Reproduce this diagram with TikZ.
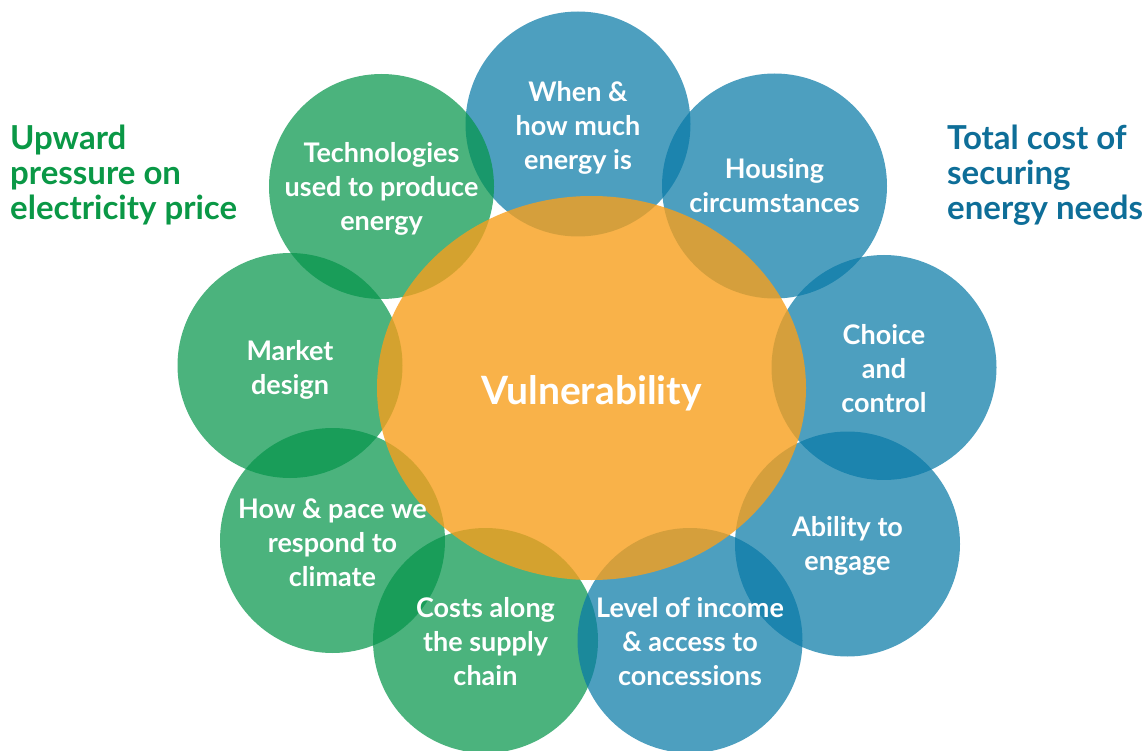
\documentclass[tikz,border=0pt]{standalone}
\usepackage{fontspec}
\setmainfont{Lato}
\usetikzlibrary{shapes.geometric}
\definecolor{cgreen}{RGB}{5,149,75}
\definecolor{cblue}{RGB}{9,122,167}
\definecolor{corange}{RGB}{248,159,28}
\definecolor{tgreen}{RGB}{10,152,70}
\definecolor{tblue}{RGB}{14,110,152}
\begin{document}
\begin{tikzpicture}[x=1pt,y=-1pt,
  bubble/.style={circle, minimum size=225pt, inner sep=0pt, draw=none, fill opacity=0.72},
  gbub/.style={bubble, fill=cgreen},
  bbub/.style={bubble, fill=cblue},
  core/.style={ellipse, minimum width=429pt, minimum height=384pt, inner sep=0pt, draw=none, fill=corange, fill opacity=0.8},
  ctext/.style={text=white, align=center, inner sep=0pt, font=\fontsize{27}{34}\selectfont\bfseries},
  vtext/.style={text=white, inner sep=0pt, font=\fontsize{39}{44}\selectfont\bfseries},
  side/.style={align=left, anchor=west, inner sep=0pt, font=\fontsize{33}{35}\selectfont\bfseries}
]
\useasboundingbox (0,0) rectangle (1148,751);
% bubbles
\node[bbub] (when) at (578,124) {};
\node[gbub] (tech) at (381.5,186.5) {};
\node[gbub] (market) at (290,365.5) {};
\node[gbub] (pace) at (332.5,540.5) {};
\node[gbub] (costs) at (485.5,640.5) {};
\node[bbub] (income) at (690,640.5) {};
\node[bbub] (engage) at (847.5,544) {};
\node[bbub] (choice) at (884,367.5) {};
\node[bbub] (housing) at (774.5,186) {};
% core
\node[core] (core) at (591.5,388) {};
% texts
\node[ctext] (twhen) at (when.center) [yshift=-4pt] {When \&\\how much\\energy is};
\node[ctext] (ttech) at (tech.center) [yshift=-2.5pt] {Technologies\\used to produce\\energy};
\node[ctext] (tmarket) at (market.center) [yshift=-4.5pt] {Market\\design};
\node[ctext] (tpace) at (pace.center) [yshift=-2.5pt] {How \& pace we\\respond to\\climate};
\node[ctext] (tcosts) at (costs.center) [yshift=-1.5pt] {Costs along\\the supply\\chain};
\node[ctext] (tincome) at (income.center) [yshift=-1.5pt] {Level of income\\\& access to\\concessions};
\node[ctext] (tengage) at (engage.center) [yshift=-2pt] {Ability to\\engage};
\node[ctext] (tchoice) at (choice.center) [yshift=-1.5pt] {Choice\\and\\control};
\node[ctext] (thousing) at (housing.center) [yshift=0.5pt] {Housing\\circumstances};
\node[vtext] (tcore) at (core.center) [yshift=-5pt] {Vulnerability};
\node[side, text=tgreen] (upward) at (10,173) [yshift=-2pt] {Upward\\pressure on\\electricity price};
\node[side, text=tblue] (total) at (947,173) [yshift=-2pt] {Total cost of\\securing\\energy needs};
\end{tikzpicture}
\end{document}
